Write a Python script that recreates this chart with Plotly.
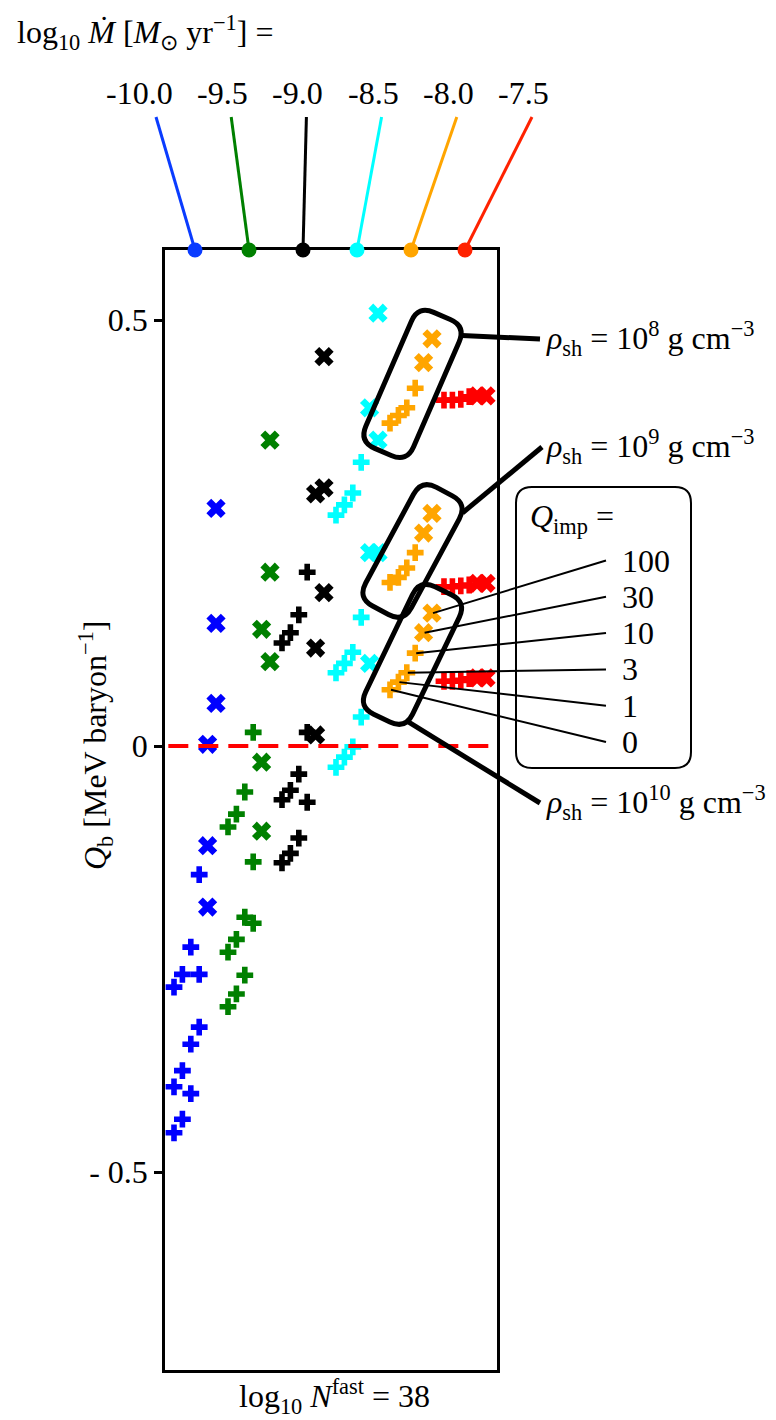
import math
import plotly.graph_objects as go

# ---------------- data ----------------
mdot = [-10.0, -9.5, -9.0, -8.5, -8.0, -7.5]          # log10 Mdot [Msun/yr]
mdot_labels = ["-10.0", "-9.5", "-9.0", "-8.5", "-8.0", "-7.5"]
q_imp = [0, 1, 3, 10, 30, 100]                        # impurity parameter
rho_exp = [8, 9, 10]                                  # log10 rho_sh [g/cm^3]
colors = ["#0000ff", "#008000", "#000000", "#00ffff", "#ffa500", "#ff0000"]
stem_colors = ["#0a3cff", "#008000", "#000000", "#00ffff", "#ffa500", "#ff2200"]

# Q_b [MeV/baryon]; rows: rho_sh = 1e8, 1e9, 1e10; columns: Q_imp
qb_m100 = [[-0.283, -0.268, -0.236, -0.151, 0.002, 0.279],
           [-0.400, -0.381, -0.350, -0.268, -0.117, 0.144],
           [-0.454, -0.438, -0.408, -0.330, -0.189, 0.050]]
qb_m095 = [[-0.095, -0.080, -0.054, 0.016, 0.137, 0.359],
           [-0.242, -0.227, -0.201, -0.136, -0.019, 0.204],
           [-0.306, -0.291, -0.269, -0.208, -0.100, 0.099]]
qb_m090 = [[0.121, 0.133, 0.154, 0.204, 0.296, 0.457],
           [-0.063, -0.052, -0.033, 0.016, 0.115, 0.303],
           [-0.137, -0.126, -0.108, -0.066, 0.013, 0.180]]
qb_m085 = [[0.271, 0.283, 0.297, 0.333, 0.397, 0.508],
           [0.086, 0.097, 0.110, 0.151, 0.227, 0.359],
           [-0.025, -0.013, -0.001, 0.034, 0.097, 0.227]]
qb_m080 = [[0.379, 0.388, 0.397, 0.420, 0.450, 0.478],
           [0.192, 0.198, 0.209, 0.227, 0.250, 0.273],
           [0.066, 0.075, 0.086, 0.109, 0.133, 0.156]]
qb_m075 = [[0.406, 0.406, 0.407, 0.410, 0.411, 0.411],
           [0.187, 0.187, 0.188, 0.189, 0.191, 0.191],
           [0.076, 0.076, 0.077, 0.079, 0.080, 0.080]]
qb_all = [qb_m100, qb_m095, qb_m090, qb_m085, qb_m080, qb_m075]

y_ticks = [-0.5, 0.0, 0.5]
y_ticktext = ["- 0.5", "0", "0.5"]

# ---------------- geometry ----------------
W_FIG, H_FIG = 776, 1420
L_PX, R_PX, T_PX, B_PX = 165, 497, 250, 1370
XR = [-10.2778, -7.2037]
YR = [-0.7324, 0.5822]
DQ = 0.0778                       # horizontal shift between Q_imp values
FONT = "Liberation Serif"
FS = 32


def q_offset(j):
    return (j - 2.5) * DQ


def xpx(x):
    return L_PX + (x - XR[0]) / (XR[1] - XR[0]) * (R_PX - L_PX)


def ypx(y):
    return B_PX - (y - YR[0]) / (YR[1] - YR[0]) * (B_PX - T_PX)


def px2paper(px, py):
    return (px - L_PX) / (R_PX - L_PX), (B_PX - py) / (B_PX - T_PX)


def rounded_path(cx, cy, ux, uy, half_l, half_w, r):
    nx, ny = -uy, ux
    if ny < 0:
        nx, ny = -nx, -ny

    def P(a, b):
        px_, py_ = px2paper(cx + a * ux + b * nx, cy + a * uy + b * ny)
        return f"{px_:.5f},{py_:.5f}"

    L, W = half_l, half_w
    return (f"M{P(L, -W + r)} L{P(L, W - r)} Q{P(L, W)} {P(L - r, W)} "
            f"L{P(-L + r, W)} Q{P(-L, W)} {P(-L, W - r)} "
            f"L{P(-L, -W + r)} Q{P(-L, -W)} {P(-L + r, -W)} "
            f"L{P(L - r, -W)} Q{P(L, -W)} {P(L, -W + r)} Z")


def text_note(px, py, text, xanchor="left", size=FS, angle=0):
    x, y = px2paper(px, py)
    return dict(xref="paper", yref="paper", x=x, y=y, text=text, showarrow=False,
                xanchor=xanchor, yanchor="middle", textangle=angle,
                font=dict(family=FONT, size=size, color="black"))


fig = go.Figure()

# ---------------- scatter points ----------------
for ci, (m, col) in enumerate(zip(mdot, colors)):
    for ri in range(len(rho_exp)):
        for sym, sel in (("cross", [0, 1, 2, 3]), ("x", [4, 5])):
            xs = [m + q_offset(j) for j in sel]
            ys = [qb_all[ci][ri][j] for j in sel]
            fig.add_trace(go.Scatter(
                x=xs, y=ys, mode="markers", showlegend=False, hoverinfo="skip",
                marker=dict(symbol=sym, size=14 if sym == "cross" else 17,
                            color=col, line=dict(width=0))))

# circles on the upper frame edge
fig.add_trace(go.Scatter(x=mdot, y=[YR[1]] * len(mdot), mode="markers",
                         cliponaxis=False, showlegend=False, hoverinfo="skip",
                         marker=dict(size=15, color=stem_colors, line=dict(width=0))))

annotations = []
shapes = []

# zero line
shapes.append(dict(type="line", xref="paper", yref="y", x0=0.01, x1=1, y0=0, y1=0,
                   line=dict(color="#ff0000", width=4, dash="20px,10px"), layer="above"))

# stems from circles up to the accretion-rate labels
top_y_px = 117
for i, m in enumerate(mdot):
    tx = 156 + 75.2 * i
    x0p, y0p = px2paper(xpx(m), T_PX)
    x1p, y1p = px2paper(tx, top_y_px)
    shapes.append(dict(type="line", xref="paper", yref="paper", x0=x0p, y0=y0p,
                       x1=x1p, y1=y1p, line=dict(color=stem_colors[i], width=3)))
    annotations.append(text_note(tx + 19, 93, mdot_labels[i], xanchor="right"))

# rounded boxes around the Mdot = 10^-8 groups
orange = qb_all[4]
TILT = math.radians(3.0)          # boxes lean a little steeper than the chains
box_geom = []
for ri in range(3):
    x0, y0 = xpx(mdot[4] + q_offset(0)), ypx(orange[ri][0])
    x1, y1 = xpx(mdot[4] + q_offset(5)), ypx(orange[ri][5])
    cx, cy = (x0 + x1) / 2 + 1.5, (y0 + y1) / 2 + 3
    dx, dy = x1 - x0, y1 - y0
    d = (dx * dx + dy * dy) ** 0.5
    ang = math.atan2(dy, dx) - TILT
    ux, uy = math.cos(ang), math.sin(ang)
    half_l, half_w = d / 2 + 27, 26
    shapes.append(dict(type="path", xref="paper", yref="paper",
                       path=rounded_path(cx, cy, ux, uy, half_l, half_w, 17),
                       line=dict(color="black", width=5), fillcolor="rgba(0,0,0,0)"))
    box_geom.append((cx, cy, ux, uy, half_l, half_w))

# connectors from boxes to density labels
rho_label_y = [338, 446, 802]
rho_line_end = [(540, 339), (542, 447), (540, 803)]
for ri in range(3):
    cx, cy, ux, uy, hl, hw = box_geom[ri]
    nx, ny = -uy, ux
    if nx < 0:
        nx, ny = -nx, -ny
    if ri < 2:
        sx, sy = cx + ux * (hl - 10) + nx * hw, cy + uy * (hl - 10) + ny * hw
    else:
        sx, sy = cx - ux * (hl - 8) + nx * hw, cy - uy * (hl - 8) + ny * hw
    a0 = px2paper(sx, sy)
    a1 = px2paper(*rho_line_end[ri])
    shapes.append(dict(type="line", xref="paper", yref="paper", x0=a0[0], y0=a0[1],
                       x1=a1[0], y1=a1[1], line=dict(color="black", width=5)))
    annotations.append(text_note(
        544, rho_label_y[ri],
        f"<i>ρ</i><sub>sh</sub> = 10<sup>{rho_exp[ri]}</sup> g cm<sup>−3</sup>"))

# Q_imp key
kx0, kx1, ky0, ky1, kr = 516, 691, 487, 768, 16


def key_path():
    def P(x, y):
        a, b = px2paper(x, y)
        return f"{a:.5f},{b:.5f}"
    return (f"M{P(kx0 + kr, ky0)} L{P(kx1 - kr, ky0)} Q{P(kx1, ky0)} {P(kx1, ky0 + kr)} "
            f"L{P(kx1, ky1 - kr)} Q{P(kx1, ky1)} {P(kx1 - kr, ky1)} "
            f"L{P(kx0 + kr, ky1)} Q{P(kx0, ky1)} {P(kx0, ky1 - kr)} "
            f"L{P(kx0, ky0 + kr)} Q{P(kx0, ky0)} {P(kx0 + kr, ky0)} Z")


shapes.append(dict(type="path", xref="paper", yref="paper", path=key_path(),
                   line=dict(color="black", width=2), fillcolor="rgba(0,0,0,0)"))
annotations.append(text_note(528, 518, "<i>Q</i><sub>imp</sub> ="))
for j, q in enumerate(q_imp):
    ly_px = 742 - 36.3 * j
    annotations.append(text_note(620, ly_px, str(q)))
    p0 = px2paper(606, ly_px)
    p1 = px2paper(xpx(mdot[4] + q_offset(j)) + 1, ypx(orange[2][j]))
    shapes.append(dict(type="line", xref="paper", yref="paper", x0=p0[0], y0=p0[1],
                       x1=p1[0], y1=p1[1], line=dict(color="black", width=2)))

# titles
annotations.append(text_note(
    15, 33, "log<sub>10</sub> <i>Ṁ</i> [<i>M</i><sub>⊙</sub> yr<sup>−1</sup>] ="))
annotations.append(text_note(
    334, 1396, "log<sub>10</sub> <i>N</i><sup>fast</sup> = 38", xanchor="center"))
annotations.append(text_note(
    95, 745, "<i>Q</i><sub>b</sub> [MeV baryon<sup>−1</sup>]", xanchor="center", angle=-90))

fig.update_layout(
    width=W_FIG, height=H_FIG,
    margin=dict(l=L_PX, r=W_FIG - R_PX, t=T_PX, b=H_FIG - B_PX, pad=0),
    plot_bgcolor="white", paper_bgcolor="white",
    shapes=shapes, annotations=annotations,
    xaxis=dict(range=XR, showgrid=False, zeroline=False, showticklabels=False,
               ticks="", showline=True, mirror=True, linecolor="black", linewidth=2.5,
               layer="below traces", fixedrange=True),
    yaxis=dict(range=YR, showgrid=False, zeroline=False, tickvals=y_ticks,
               ticktext=y_ticktext, ticks="outside", ticklen=8, tickwidth=2.5,
               tickcolor="black", showline=True, mirror=True, linecolor="black",
               linewidth=2.5, layer="below traces",
               tickfont=dict(family=FONT, size=FS, color="black"), fixedrange=True),
)

fig.write_html("out.html")
